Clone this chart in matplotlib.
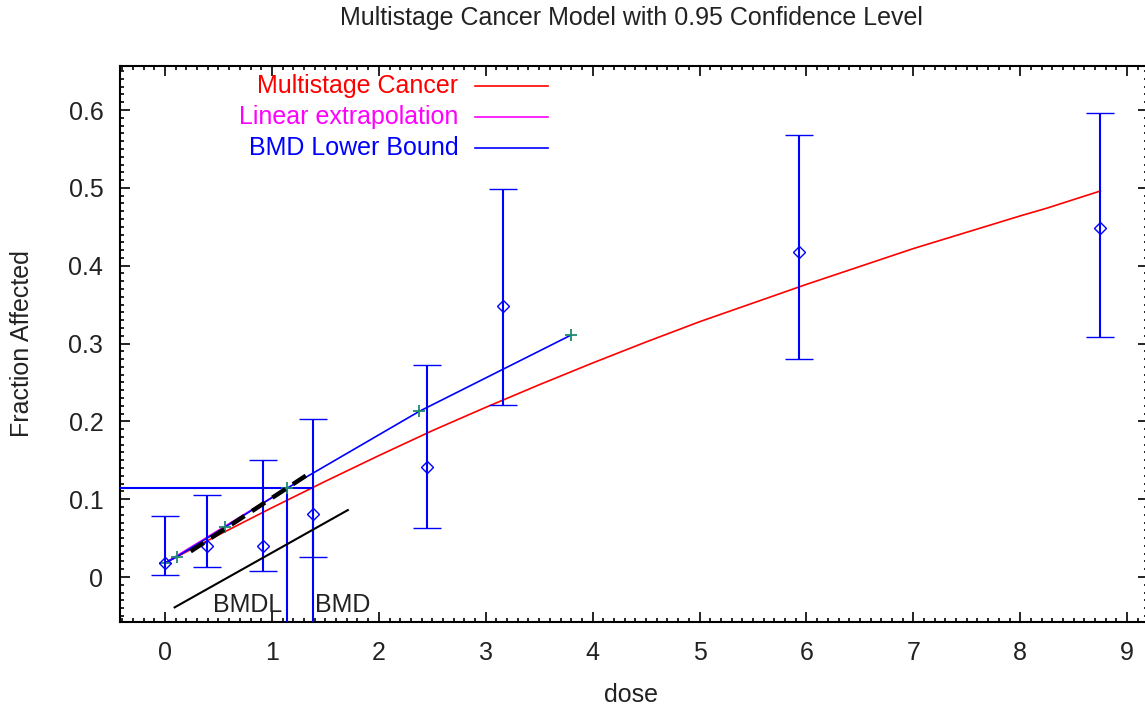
import matplotlib
matplotlib.use("Agg")
import matplotlib.pyplot as plt
from matplotlib.ticker import MultipleLocator

plt.rcParams['font.family'] = ['Liberation Sans', 'DejaVu Sans']

# Observed dose groups: fraction affected with 95% confidence limits
dose = [0.0, 0.39, 0.92, 1.38, 2.45, 3.16, 5.93, 8.75]
frac = [0.018, 0.040, 0.040, 0.081, 0.141, 0.348, 0.418, 0.448]
lower = [0.003, 0.013, 0.008, 0.026, 0.063, 0.221, 0.280, 0.308]
upper = [0.078, 0.105, 0.150, 0.203, 0.273, 0.498, 0.568, 0.596]

# Fitted multistage cancer curve
fit_dose = [0.0, 0.5, 1.0, 1.5, 2.0, 2.5, 3.0, 3.5, 4.0, 4.5, 5.0, 5.5,
            6.0, 6.5, 7.0, 7.5, 8.0, 8.25, 8.75]
fit_frac = [0.018, 0.054, 0.089, 0.123, 0.156, 0.188, 0.218, 0.247, 0.275, 0.302, 0.328, 0.352,
            0.376, 0.399, 0.422, 0.443, 0.464, 0.474, 0.496]

# BMD lower bound curve with its marker points
bound_dose = [0.0, 0.11, 0.56, 1.14, 2.38, 3.80]
bound_frac = [0.018, 0.026, 0.064, 0.114, 0.213, 0.311]

# Linear extrapolation to the BMDL
lin_dose = [0.0, 1.14]
lin_frac = [0.018, 0.114]

# Benchmark response and doses
bmr = 0.114
bmdl = 1.14
bmd = 1.38

# Annotation lines
dash_x = [0.24, 1.36]
dash_y = [0.033, 0.134]
slope_x = [0.09, 1.71]
slope_y = [-0.039, 0.086]

fig = plt.figure(figsize=(11.45, 7.13), dpi=100)
ax = fig.add_axes([120 / 1145, 91 / 713, 1028 / 1145, 556 / 713])

ax.plot(fit_dose, fit_frac, color="#ff0000", lw=1.2, zorder=3)
ax.plot(lin_dose, lin_frac, color="#ff00ff", lw=1.2, zorder=2)
ax.plot(bound_dose, bound_frac, color="#0000ff", lw=1.2, zorder=4)
ax.plot(bound_dose, bound_frac, ls="none", marker="+", ms=9, mew=1.3,
        color="#1f8a70", zorder=5)

# BMD / BMDL guides
ax.hlines(bmr, -1, bmd, color="#0000ff", lw=1.5, zorder=4)
ax.vlines([bmdl, bmd], -1, bmr, color="#0000ff", lw=1.5, zorder=4)

ax.plot(dash_x, dash_y, color="black", lw=3.2, dashes=(3.5, 2), zorder=6)
ax.plot(slope_x, slope_y, color="black", lw=1.5, zorder=6)
ax.text(0.45, -0.036, "BMDL", fontsize=18, color="#222222", va="center")
ax.text(1.40, -0.036, "BMD", fontsize=18, color="#222222", va="center")

# Observed data with error bars
yerr = [[f - l for f, l in zip(frac, lower)], [u - f for f, u in zip(frac, upper)]]
ax.errorbar(dose, frac, yerr=yerr, fmt="D", ms=6, mfc="none", mec="#0000ff",
            mew=1.0, ecolor="#0000ff", elinewidth=1.5, capsize=10, capthick=1.5,
            zorder=5)

# Legend drawn as text + line samples
leg_labels = ["Multistage Cancer", "Linear extrapolation", "BMD Lower Bound"]
leg_colors = ["#ff0000", "#ff00ff", "#0000ff"]
leg_y = [0.964, 0.908, 0.853]
for lab, col, yy in zip(leg_labels, leg_colors, leg_y):
    ax.text(0.329, yy, lab, color=col, fontsize=18, ha="right", va="center",
            transform=ax.transAxes)
    ax.plot([0.345, 0.416], [yy, yy], color=col, lw=1.2, transform=ax.transAxes)

ax.set_xlim(-0.421, 9.195)
ax.set_ylim(-0.0578, 0.6566)
ax.set_xticks(range(10))
ax.set_yticks([0, 0.1, 0.2, 0.3, 0.4, 0.5, 0.6])
ax.set_yticklabels(["0", "0.1", "0.2", "0.3", "0.4", "0.5", "0.6"])
ax.xaxis.set_minor_locator(MultipleLocator(0.1))
ax.yaxis.set_minor_locator(MultipleLocator(0.01))
ax.tick_params(which="both", direction="in", top=True, right=True,
               labelsize=18, labelcolor="#222222", width=1.2)
ax.tick_params(which="major", length=7)
ax.tick_params(which="minor", length=3)
ax.tick_params(axis="x", which="major", pad=14)
ax.tick_params(axis="y", which="major", pad=12)
for s in ax.spines.values():
    s.set_linewidth(1.5)

fig.text(631 / 1145, 1 - 18 / 713, "Multistage Cancer Model with 0.95 Confidence Level",
         fontsize=18, ha="center", va="center", color="#222222")
fig.text(631 / 1145, 1 - 695 / 713, "dose", fontsize=18, ha="center", va="center",
         color="#222222")
fig.text(22 / 1145, 1 - 344 / 713, "Fraction Affected", fontsize=18, ha="center",
         va="center", rotation=90, color="#222222")

fig.savefig("out.png", dpi=100)
